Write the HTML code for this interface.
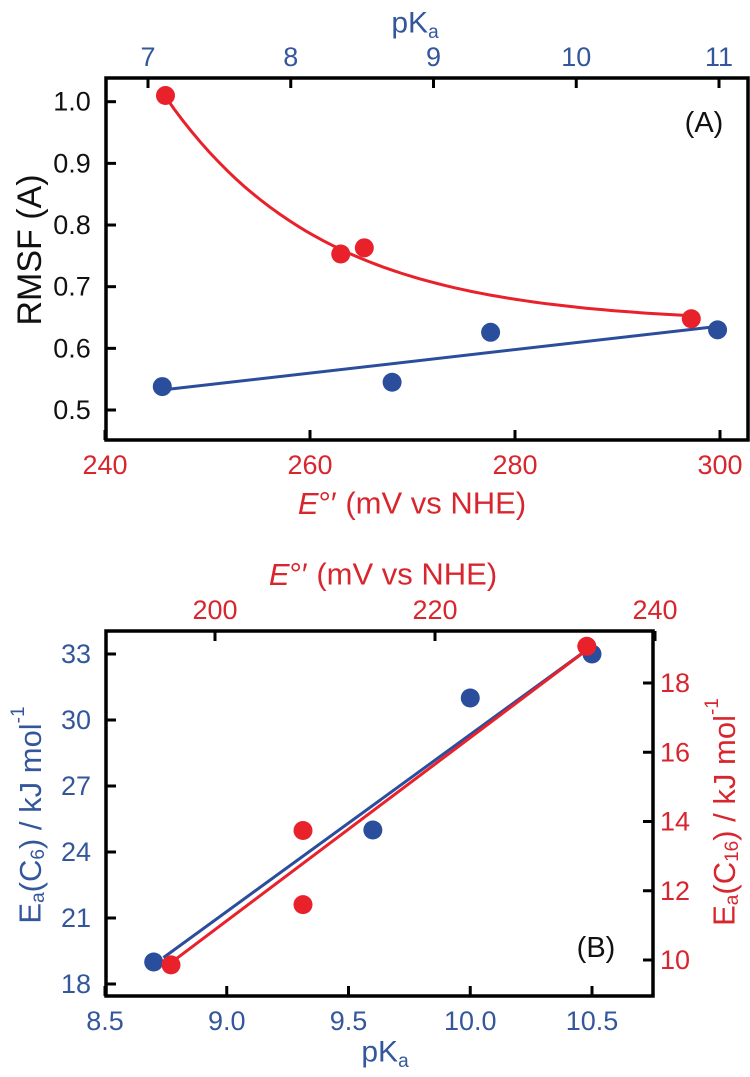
<!DOCTYPE html>
<html><head><meta charset="utf-8">
<style>
body{margin:0;background:#fff;}
svg{display:block;font-family:"Liberation Sans",Arial,sans-serif;}
</style></head>
<body>
<svg id="fig" width="750" height="1077" viewBox="0 0 750 1077"></svg>
<script>
// Panel A data
const aRedE = [245.9, 263.0, 265.3, 297.2];
const aRedRmsf = [1.01, 0.753, 0.763, 0.648];
const aBluePka = [7.1, 8.71, 9.40, 10.99];
const aBlueRmsf = [0.538, 0.545, 0.626, 0.630];
const aBlueFitX = [7.12, 10.97];
const aBlueFitY = [0.533, 0.635];
const aRedFitParams = [0.64, 0.368, 245.9, 15.3]; // y0, A, x0, tau
const aRedFitRange = [245.9, 297.2];
const aYTicks = [0.5, 0.6, 0.7, 0.8, 0.9, 1.0];
const aYLabels = ["0.5","0.6","0.7","0.8","0.9","1.0"];
const aXTicks = [240, 260, 280, 300];
const aTopTicks = [7, 8, 9, 10, 11];
// Panel B data
const bBluePka = [8.7, 9.6, 10.0, 10.5];
const bBlueEa = [19.0, 25.0, 31.0, 33.0];
const bRedE = [196.0, 208.0, 208.0, 233.8];
const bRedEa = [9.86, 13.74, 11.6, 19.06];
const bBlueFitX = [8.74, 10.48];
const bBlueFitY = [19.2, 33.2];
const bRedFitX = [196.2, 233.7];
const bRedFitY = [9.97, 18.93];
const bYTicks = [18, 21, 24, 27, 30, 33];
const bXTicks = [8.5, 9.0, 9.5, 10.0, 10.5];
const bXLabels = ["8.5","9.0","9.5","10.0","10.5"];
const bTopTicks = [200, 220, 240];
const bRightTicks = [10, 12, 14, 16, 18];

const NS = "http://www.w3.org/2000/svg";
const svg = document.getElementById('fig');
const BLUE = "#2a4d9c", RED = "#e8212b", TBLUE = "#34579c", TRED = "#d8262e";
function el(tag, attrs, parent){const e=document.createElementNS(NS,tag);for(const k in attrs)e.setAttribute(k,attrs[k]);(parent||svg).appendChild(e);return e;}
function lin(d0,d1,r0,r1){return v=>r0+(v-d0)*(r1-r0)/(d1-d0);}
function txt(s,x,y,attrs,name,parent){const t=el('text',Object.assign({x:x,y:y,'text-anchor':'middle','dominant-baseline':'central'},attrs),parent);t.textContent=s;


return t;}

// ---------- Panel A ----------
const gA = el('g',{});


const axL=106, axR=748, axT=78, axB=440;
const xE = lin(240,300,105,720);
const xP = lin(7,11,148,719);
const yA = lin(0.5,1.0,410,101.7);
// ticks
aYTicks.forEach((v,i)=>{el('line',{x1:axL,x2:axL+10,y1:yA(v),y2:yA(v),stroke:'#000','stroke-width':3},gA);
 txt(aYLabels[i],axL-34,yA(v),{'font-size':27,fill:'#111'},'y-tick-label',gA);});
aXTicks.forEach(v=>{el('line',{x1:xE(v),x2:xE(v),y1:axB,y2:axB-10,stroke:'#000','stroke-width':3},gA);
 txt(String(v),xE(v),465,{'font-size':27,fill:TRED},'x-tick-label',gA);});
aTopTicks.forEach(v=>{el('line',{x1:xP(v),x2:xP(v),y1:axT,y2:axT+10,stroke:'#000','stroke-width':3},gA);
 txt(String(v),xP(v),57,{'font-size':27,fill:TBLUE},'top-tick-label',gA);});
el('rect',{x:axL,y:axT,width:axR-axL,height:axB-axT,fill:'none',stroke:'#000','stroke-width':3.5},gA);
// titles
let t=txt('',18,250,{'font-size':34,fill:'#111',transform:'rotate(-90 30 250)'},'y-axis-title',gA);t.setAttribute('x',30);t.textContent='RMSF (A)';
t=txt('',415,23,{'font-size':30,fill:TBLUE},'top-axis-title',gA);
t.innerHTML='pK<tspan font-size="19" dy="9">a</tspan>';
t=txt('',412,503,{'font-size':31,fill:TRED},'x-axis-title',gA);
t.innerHTML='<tspan font-style="italic">E</tspan>°′ (mV vs NHE)';
txt('(A)',704,123,{'font-size':29,fill:'#111'},'panel-label-a',gA);
// fits
let d='';const [y0,A0,x0,tau]=aRedFitParams;
for(let i=0;i<=60;i++){const x=aRedFitRange[0]+(aRedFitRange[1]-aRedFitRange[0])*i/60;const y=y0+A0*Math.exp(-(x-x0)/tau);d+=(i?'L':'M')+xE(x).toFixed(1)+','+yA(y).toFixed(1);}
el('path',{d:d,fill:'none',stroke:RED,'stroke-width':3},gA);
el('line',{x1:xP(aBlueFitX[0]),y1:yA(aBlueFitY[0]),x2:xP(aBlueFitX[1]),y2:yA(aBlueFitY[1]),stroke:BLUE,'stroke-width':3},gA);
aRedE.forEach((v,i)=>{const c=el('circle',{cx:xE(v),cy:yA(aRedRmsf[i]),r:9.5,fill:RED},gA);

});
aBluePka.forEach((v,i)=>{const c=el('circle',{cx:xP(v),cy:yA(aBlueRmsf[i]),r:9.5,fill:BLUE},gA);

});

// ---------- Panel B ----------
const gB = el('g',{});


const bL=106, bR=653, bT=631, bB=996;
const xK = lin(8.5,10.5,105,592);
const xE2 = lin(200,240,215,655);
const yL = lin(18,33,984,654);
const yR = lin(10,18,960,683);
bYTicks.forEach(v=>{el('line',{x1:bL,x2:bL+10,y1:yL(v),y2:yL(v),stroke:'#000','stroke-width':3},gB);
 txt(String(v),bL-30,yL(v),{'font-size':27,fill:TBLUE},'left-tick-label',gB);});
bRightTicks.forEach(v=>{el('line',{x1:bR,x2:bR-10,y1:yR(v),y2:yR(v),stroke:'#000','stroke-width':3},gB);
 txt(String(v),bR+22,yR(v),{'font-size':27,fill:TRED},'right-tick-label',gB);});
bXTicks.forEach((v,i)=>{el('line',{x1:xK(v),x2:xK(v),y1:bB,y2:bB-10,stroke:'#000','stroke-width':3},gB);
 txt(bXLabels[i],xK(v),1021,{'font-size':27,fill:TBLUE},'x-tick-label',gB);});
bTopTicks.forEach(v=>{el('line',{x1:xE2(v),x2:xE2(v),y1:bT,y2:bT+10,stroke:'#000','stroke-width':3},gB);
 txt(String(v),xE2(v),610,{'font-size':27,fill:TRED},'top-tick-label',gB);});
el('rect',{x:bL,y:bT,width:bR-bL,height:bB-bT,fill:'none',stroke:'#000','stroke-width':3.5},gB);
t=txt('',383,574,{'font-size':31,fill:TRED},'top-axis-title',gB);
t.innerHTML='<tspan font-style="italic">E</tspan>°′ (mV vs NHE)';
t=txt('',385,1052,{'font-size':30,fill:TBLUE},'x-axis-title',gB);
t.innerHTML='pK<tspan font-size="19" dy="9">a</tspan>';
t=txt('',30,815,{'font-size':31,fill:TBLUE,transform:'rotate(-90 30 815)'},'left-axis-title',gB);
t.innerHTML='E<tspan font-size="19" dy="8">a</tspan><tspan dy="-8">(C</tspan><tspan font-size="19" dy="8">6</tspan><tspan dy="-8">) / kJ mol</tspan><tspan font-size="19" dy="-12">-1</tspan>';
t=txt('',724,812,{'font-size':31,fill:TRED,transform:'rotate(-90 724 812)'},'right-axis-title',gB);
t.innerHTML='E<tspan font-size="19" dy="8">a</tspan><tspan dy="-8">(C</tspan><tspan font-size="19" dy="8">16</tspan><tspan dy="-8">) / kJ mol</tspan><tspan font-size="19" dy="-12">-1</tspan>';
txt('(B)',596,948,{'font-size':29,fill:'#111'},'panel-label-b',gB);
el('line',{x1:xK(bBlueFitX[0]),y1:yL(bBlueFitY[0]),x2:xK(bBlueFitX[1]),y2:yL(bBlueFitY[1]),stroke:BLUE,'stroke-width':3},gB);
el('line',{x1:xE2(bRedFitX[0]),y1:yR(bRedFitY[0]),x2:xE2(bRedFitX[1]),y2:yR(bRedFitY[1]),stroke:RED,'stroke-width':3},gB);
bBluePka.forEach((v,i)=>{const c=el('circle',{cx:xK(v),cy:yL(bBlueEa[i]),r:9.5,fill:BLUE},gB);

});
bRedE.forEach((v,i)=>{const c=el('circle',{cx:xE2(v),cy:yR(bRedEa[i]),r:9.5,fill:RED},gB);

});
</script>
</body></html>
